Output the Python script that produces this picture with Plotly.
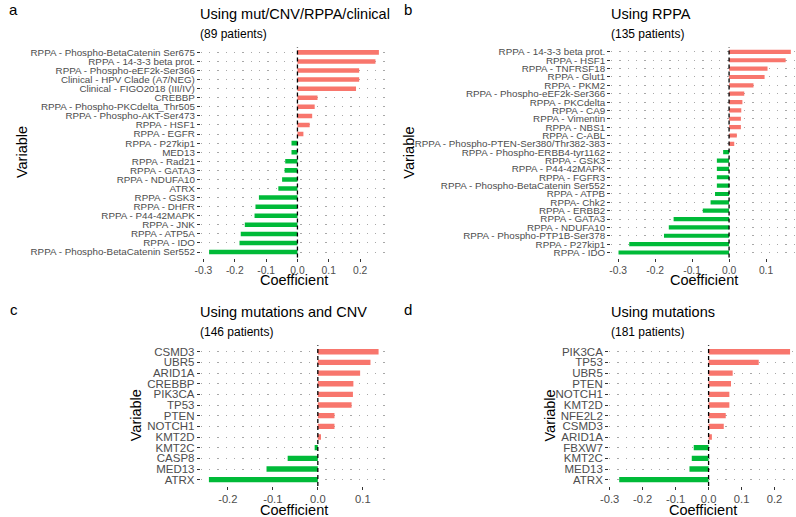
import plotly.graph_objects as go

W, H = 796, 517

# ---------------- data (top to bottom as displayed) ----------------
a_vars = ["RPPA - Phospho-BetaCatenin Ser675", "RPPA - 14-3-3 beta prot.", "RPPA - Phospho-eEF2k-Ser366",
          "Clinical - HPV Clade (A7/NEG)", "Clinical - FIGO2018 (III/IV)", "CREBBP",
          "RPPA - Phospho-PKCdelta_Thr505", "RPPA - Phospho-AKT-Ser473", "RPPA - HSF1", "RPPA - EGFR",
          "RPPA - P27kip1", "MED13", "RPPA - Rad21", "RPPA - GATA3", "RPPA - NDUFA10", "ATRX",
          "RPPA - GSK3", "RPPA - DHFR", "RPPA - P44-42MAPK", "RPPA - JNK", "RPPA - ATP5A", "RPPA - IDO",
          "RPPA - Phospho-BetaCatenin Ser552"]
a_coef = [0.260, 0.249, 0.197, 0.197, 0.187, 0.064, 0.055, 0.047, 0.039, 0.019,
          -0.019, -0.019, -0.039, -0.041, -0.049, -0.061, -0.123, -0.134, -0.137, -0.168,
          -0.181, -0.185, -0.282]

b_vars = ["RPPA - 14-3-3 beta prot.", "RPPA - HSF1", "RPPA - TNFRSF18", "RPPA - Glut1", "RPPA - PKM2",
          "RPPA - Phospho-eEF2k-Ser366", "RPPA - PKCdelta", "RPPA - CA9", "RPPA - Vimentin", "RPPA - NBS1",
          "RPPA - C-ABL", "RPPA - Phospho-PTEN-Ser380/Thr382-383", "RPPA - Phospho-ERBB4-tyr1162",
          "RPPA - GSK3", "RPPA - P44-42MAPK", "RPPA - FGFR3", "RPPA - Phospho-BetaCatenin Ser552",
          "RPPA - ATPB", "RPPA- Chk2", "RPPA - ERBB2", "RPPA - GATA3", "RPPA - NDUFA10",
          "RPPA - Phospho-PTP1B-Ser378", "RPPA - P27kip1", "RPPA - IDO"]
b_coef = [0.167, 0.153, 0.104, 0.096, 0.066, 0.041, 0.036, 0.033, 0.032, 0.032,
          0.021, 0.014, -0.016, -0.033, -0.033, -0.033, -0.033, -0.038, -0.050, -0.071,
          -0.150, -0.163, -0.176, -0.270, -0.299]

c_vars = ["CSMD3", "UBR5", "ARID1A", "CREBBP", "PIK3CA", "TP53", "PTEN", "NOTCH1", "KMT2D",
          "KMT2C", "CASP8", "MED13", "ATRX"]
c_coef = [0.135, 0.117, 0.094, 0.079, 0.078, 0.075, 0.037, 0.037, 0.007,
          -0.007, -0.067, -0.114, -0.242]

d_vars = ["PIK3CA", "TP53", "UBR5", "PTEN", "NOTCH1", "KMT2D", "NFE2L2", "CSMD3", "ARID1A",
          "FBXW7", "KMT2C", "MED13", "ATRX"]
d_coef = [0.247, 0.152, 0.073, 0.068, 0.063, 0.063, 0.052, 0.046, 0.010,
          -0.045, -0.051, -0.058, -0.271]

titles = ["Using mut/CNV/RPPA/clinical", "Using RPPA", "Using mutations and CNV", "Using mutations"]
subtitles = ["(89 patients)", "(135 patients)", "(146 patients)", "(181 patients)"]
letters = ["a", "b", "c", "d"]
x_ticks = [[-0.3, -0.2, -0.1, 0.0, 0.1, 0.2], [-0.3, -0.2, -0.1, 0.0, 0.1],
           [-0.2, -0.1, 0.0, 0.1], [-0.3, -0.2, -0.1, 0.0, 0.1, 0.2]]
x_ranges = [[-0.3085, 0.288], [-0.319, 0.181], [-0.260, 0.153], [-0.3015, 0.265]]

RED, GREEN = "#F8766D", "#00BA38"
FONT = "Liberation Sans, Arial, sans-serif"

# ---------------- layout (pixel boxes of plot areas) ----------------
# x0, x1, ytop, ybottom
boxes = [(194, 383, 46, 257), (609, 796, 46, 257), (194, 382, 345, 486), (607, 796, 345, 486)]
tick_font = [9.8, 9.8, 11.5, 11.5]
xtick_font = [10.3, 10.3, 11.2, 11.2]
ytitle_x = [13, 405, 128, 547]
xtitle_y = [279.5, 279.5, 510, 510]
letter_pos = [(5, 9), (404, 9), (5, 309), (404, 309)]
title_x = [191, 607, 191, 607]

panels = [(a_vars, a_coef), (b_vars, b_coef), (c_vars, c_coef), (d_vars, d_coef)]

fig = go.Figure()
annotations = []
shapes = []
layout_axes = {}

def px(x):
    return x / W

def py(y):
    return 1 - y / H

for i, (vars_, coef) in enumerate(panels):
    n = i + 1
    xa = "x" if n == 1 else f"x{n}"
    ya = "y" if n == 1 else f"y{n}"
    cats = list(reversed(vars_))
    vals = list(reversed(coef))
    colors = [RED if v > 0 else GREEN for v in vals]
    fig.add_trace(go.Bar(x=vals, y=cats, orientation="h", marker=dict(color=colors, line=dict(width=0)),
                         width=0.5, xaxis=xa, yaxis=ya, showlegend=False, hoverinfo="x+y"))
    x0, x1, yt, yb = boxes[i]
    key_x = "xaxis" if n == 1 else f"xaxis{n}"
    key_y = "yaxis" if n == 1 else f"yaxis{n}"
    layout_axes[key_x] = dict(domain=[px(x0), px(x1)], range=x_ranges[i], anchor=ya, showgrid=False,
                              zeroline=False, tickmode="array", tickvals=x_ticks[i],
                              ticktext=[f"{t:.1f}" for t in x_ticks[i]],
                              ticks="outside", ticklen=3, tickcolor="#333333", tickwidth=1,
                              tickfont=dict(size=xtick_font[i], color="#4D4D4D", family=FONT),
                              showline=False, fixedrange=True)
    layout_axes[key_y] = dict(domain=[py(yb), py(yt)], anchor=xa, type="category",
                              categoryorder="array", categoryarray=cats,
                              tickmode="array", tickvals=cats, ticktext=cats,
                              range=[-0.6, len(cats) - 0.4], showgrid=True,
                              gridcolor="#A8A8A8", griddash="1.3px,7px", gridwidth=1,
                              ticks="outside", ticklen=3, tickcolor="#333333", tickwidth=1,
                              tickfont=dict(size=tick_font[i], color="#4D4D4D", family=FONT),
                              showline=False, zeroline=False, fixedrange=True, layer="below traces")
    # zero reference line
    shapes.append(dict(type="line", xref=xa, yref=f"{ya} domain", x0=0, x1=0, y0=0, y1=1,
                       line=dict(color="black", width=1.3, dash="4px,3px"), layer="above"))
    # titles
    annotations.append(dict(text=titles[i], x=px(title_x[i]), y=py(yt - 33), xref="paper", yref="paper",
                            xanchor="left", yanchor="middle", showarrow=False,
                            font=dict(size=14.5, color="black", family=FONT)))
    annotations.append(dict(text=subtitles[i], x=px(title_x[i]), y=py(yt - 13), xref="paper", yref="paper",
                            xanchor="left", yanchor="middle", showarrow=False,
                            font=dict(size=12, color="black", family=FONT)))
    annotations.append(dict(text="Variable", x=px(ytitle_x[i]), y=py((yt + yb) / 2), xref="paper",
                            yref="paper", xanchor="center", yanchor="middle", showarrow=False,
                            textangle=-90, font=dict(size=14.5, color="black", family=FONT)))
    annotations.append(dict(text="Coefficient", x=px((x0 + x1) / 2), y=py(xtitle_y[i]), xref="paper",
                            yref="paper", xanchor="center", yanchor="middle", showarrow=False,
                            font=dict(size=14.5, color="black", family=FONT)))
    annotations.append(dict(text=letters[i], x=px(letter_pos[i][0]), y=py(letter_pos[i][1]), xref="paper",
                            yref="paper", xanchor="center", yanchor="middle", showarrow=False,
                            font=dict(size=15, color="black", family=FONT)))

fig.update_layout(width=W, height=H, margin=dict(l=0, r=0, t=0, b=0),
                  paper_bgcolor="white", plot_bgcolor="white", bargap=0.5,
                  annotations=annotations, shapes=shapes, **layout_axes)

fig.write_html("out.html", config={"displayModeBar": False},
               post_script="document.body.style.margin='0';document.body.style.overflow='hidden';")
